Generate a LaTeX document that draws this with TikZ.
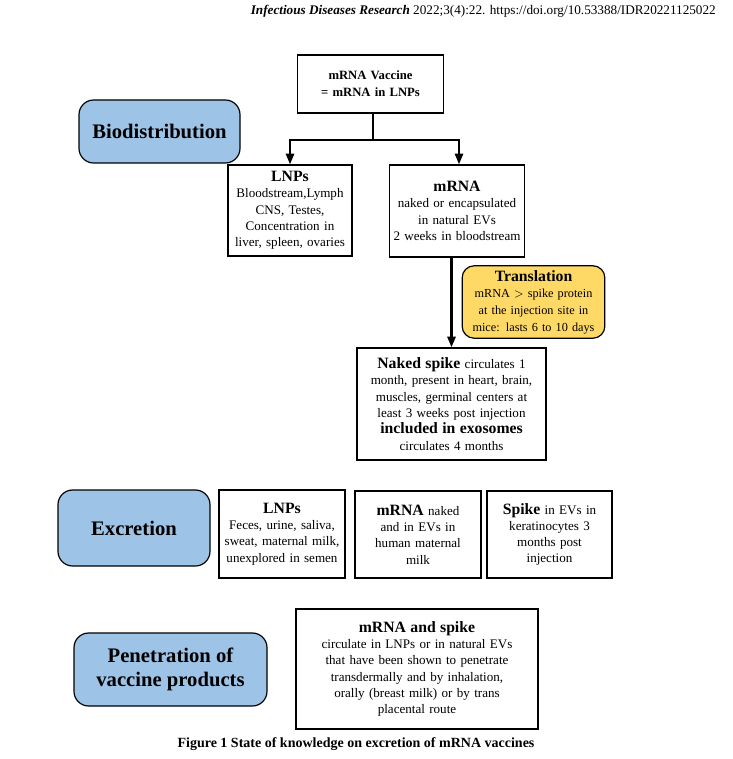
\documentclass[tikz,border=0pt]{standalone}
\usepackage{fontspec}
\setmainfont{Liberation Serif}
\usetikzlibrary{arrows.meta}

\definecolor{topicblue}{HTML}{9DC3E6}
\definecolor{noteyellow}{HTML}{FFD966}

\tikzset{
  infobox/.style={draw, line width=0.9pt, align=center, inner xsep=2pt, inner ysep=1pt,
    font=\fontsize{9.8}{12.2}\selectfont},
  topicbox/.style={draw, line width=0.9pt, rounded corners=11pt, fill=topicblue, align=center,
    font=\bfseries\fontsize{15.5}{18}\selectfont},
  notebox/.style={draw, line width=0.9pt, rounded corners=9pt, fill=noteyellow, align=center,
    inner xsep=2pt, font=\fontsize{9.2}{12.5}\selectfont},
  flowarrow/.style={line width=1.8pt, -{Triangle[length=8pt,width=6pt]}},
}

\newcommand{\hd}[1]{{\bfseries\fontsize{11.8}{13}\selectfont #1}}

\begin{document}
\begin{tikzpicture}[x=0.75pt,y=-0.75pt]
\useasboundingbox (0,0) rectangle (732,759);

% journal line
\node[anchor=east, inner sep=0pt, font=\fontsize{9.9}{11}\selectfont] (journal) at (716,11)
  {\textbf{\textit{Infectious Diseases Research}} 2022;3(4):22. https://doi.org/10.53388/IDR20221125022};

% biodistribution
\node[topicbox, minimum width=120.75pt, minimum height=47.25pt] (bio) at (159.5,131.5) {Biodistribution};
\node[infobox, text width=106pt, minimum height=43.5pt, font=\bfseries\fontsize{9.5}{13}\selectfont] (vaccine) at (370.5,84)
  {mRNA Vaccine\\ = mRNA in LNPs};
\node[infobox, text width=89pt, minimum height=68.25pt] (lnp) at (290,210.5)
  {\hd{LNPs}\\ Bloodstream,Lymph\\ CNS, Testes,\\ Concentration in\\ liver, spleen, ovaries};
\node[infobox, text width=97.5pt, minimum height=69pt] (mrna) at (457,211)
  {\hd{mRNA}\\ naked or encapsulated\\ in natural EVs\\ 2 weeks in bloodstream};
\node[notebox, text width=103pt, minimum height=52.5pt] (transl) at (533.5,302)
  {\hd{Translation}\\ mRNA ${>}$ spike protein\\ at the injection site in\\ mice: lasts 6 to 10 days};
\node[infobox, text width=137.75pt, minimum height=84pt] (spike) at (451.5,404)
  {\hd{Naked spike} circulates 1\\ month, present in heart, brain,\\ muscles, germinal centers at\\ least 3 weeks post injection\\
   \hd{included in exosomes}\\ circulates 4 months};

\coordinate (split) at (373,140);
\draw[line width=1.8pt] (split |- vaccine.south) -- (split);
\draw[flowarrow] (split) -| (lnp.north);
\draw[flowarrow] (split) -| ([xshift=1.5pt]mrna.north);
\draw[flowarrow] (mrna.south -| spike.north) -- (spike.north);

% excretion
\node[topicbox, minimum width=114pt, minimum height=57pt] (excr) at (134,528) {Excretion};
\node[infobox, text width=90.5pt, minimum height=66pt] (exlnp) at (282,534)
  {\hd{LNPs}\\ Feces, urine, saliva,\\ sweat, maternal milk,\\ unexplored in semen};
\node[infobox, text width=90.5pt, minimum height=65.25pt] (exmrna) at (418,534.5)
  {\hd{mRNA} naked\\ and in EVs in\\ human maternal\\ milk};
\node[infobox, text width=89.75pt, minimum height=65.25pt] (exspike) at (549.5,534.5)
  {\hd{Spike} in EVs in\\ keratinocytes 3\\ months post\\ injection};

% penetration
\node[topicbox, minimum width=144.75pt, minimum height=54.75pt] (pen) at (170.5,669.5)
  {Penetration of\\ vaccine products};
\node[infobox, text width=177.5pt, minimum height=90pt] (route) at (417,669)
  {\hd{mRNA and spike}\\ circulate in LNPs or in natural EVs\\ that have been shown to penetrate\\
   transdermally and by inhalation,\\ orally (breast milk) or by trans\\ placental route};

\node[font=\bfseries\fontsize{10.5}{12}\selectfont] (caption) at (356,744)
  {Figure 1 State of knowledge on excretion of mRNA vaccines};
\end{tikzpicture}
\end{document}
